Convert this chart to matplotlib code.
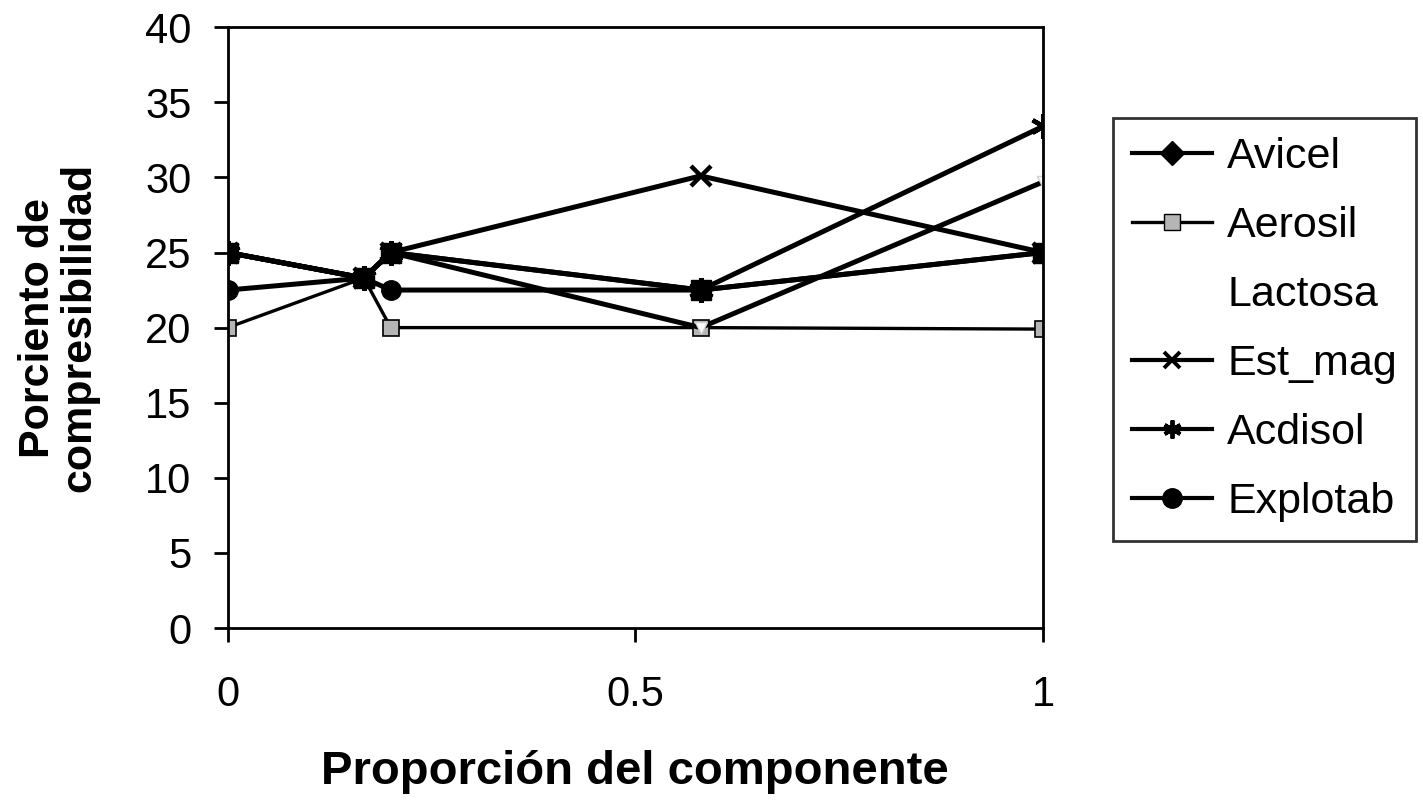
import matplotlib.pyplot as plt
from matplotlib.lines import Line2D

plt.rcParams['font.family'] = ['Liberation Sans', 'DejaVu Sans']

# proporcion del componente y porciento de compresibilidad
x = [0, 0.167, 0.2, 0.58, 1]
avicel = [25, 23.3, 25, 22.5, 25]
aerosil = [20, 23.3, 20, 20, 19.9]
lactosa = [25, 23.3, 25, 20, 29.7]
est_mag = [25, 23.3, 25, 30.1, 25]
acdisol = [25, 23.3, 25, 22.5, 33.4]
explotab = [22.5, 23.3, 22.5, 22.5, 25]

names = ['Avicel', 'Aerosil', 'Lactosa', 'Est_mag', 'Acdisol', 'Explotab']

fig = plt.figure(figsize=(14.23, 8), dpi=100)
ax = fig.add_axes([0.160, 0.215, 0.573, 0.751])

lw = 3.6
ast = (6, 2, 0)

ax.plot(x, aerosil, color='black', lw=2.4, marker='s', ms=12,
        mfc='#b5b5b5', mec='black', mew=1.2, zorder=2)
ax.plot(x, lactosa, color='black', lw=lw, marker='v', ms=9,
        mfc='white', mec='#d0d0d0', mew=1, zorder=2)
ax.plot(x, est_mag, color='black', lw=lw, marker='x', ms=15, mew=3.2, zorder=3)
ax.plot(x, acdisol, color='black', lw=lw, marker=ast, ms=18, mew=3.2, zorder=3)
ax.plot(x, explotab, color='black', lw=lw, marker='o', ms=14, zorder=3)
ax.plot(x, avicel, color='black', lw=lw, marker='s', ms=14, zorder=4)

ax.set_xlim(0, 1)
ax.set_ylim(0, 40)
ax.set_xticks([0, 0.5, 1])
ax.set_xticklabels(['0', '0.5', '1'])
ax.set_yticks(range(0, 41, 5))
ax.tick_params(axis='both', labelsize=30, width=2, length=10, direction='out')
ax.tick_params(axis='x', pad=24)
ax.tick_params(axis='y', pad=16)
for s in ax.spines.values():
    s.set_linewidth(2)

ax.set_xlabel('Proporción del componente', fontsize=34, fontweight='bold', labelpad=25)
ax.set_ylabel('Porciento de\ncompresibilidad', fontsize=31, fontweight='bold', labelpad=33,
              linespacing=1.05)

handles = [
    Line2D([], [], color='black', lw=3, marker='D', ms=12),
    Line2D([], [], color='black', lw=2.4, marker='s', ms=11, mfc='#b5b5b5', mec='black'),
    Line2D([], [], color='none', lw=0),
    Line2D([], [], color='black', lw=3, marker='x', ms=12, mew=2.8),
    Line2D([], [], color='black', lw=3, marker=ast, ms=13, mew=2.8),
    Line2D([], [], color='black', lw=3, marker='o', ms=14),
]
leg = fig.legend(handles, names, loc='upper left', bbox_to_anchor=(0.782, 0.8525),
                 fontsize=31, frameon=True, fancybox=False, edgecolor='black',
                 handlelength=1.86, handletextpad=0.35, labelspacing=0.67,
                 borderpad=0.45, borderaxespad=0)
leg.get_frame().set_linewidth(2)

fig.savefig('out.png', dpi=100)
